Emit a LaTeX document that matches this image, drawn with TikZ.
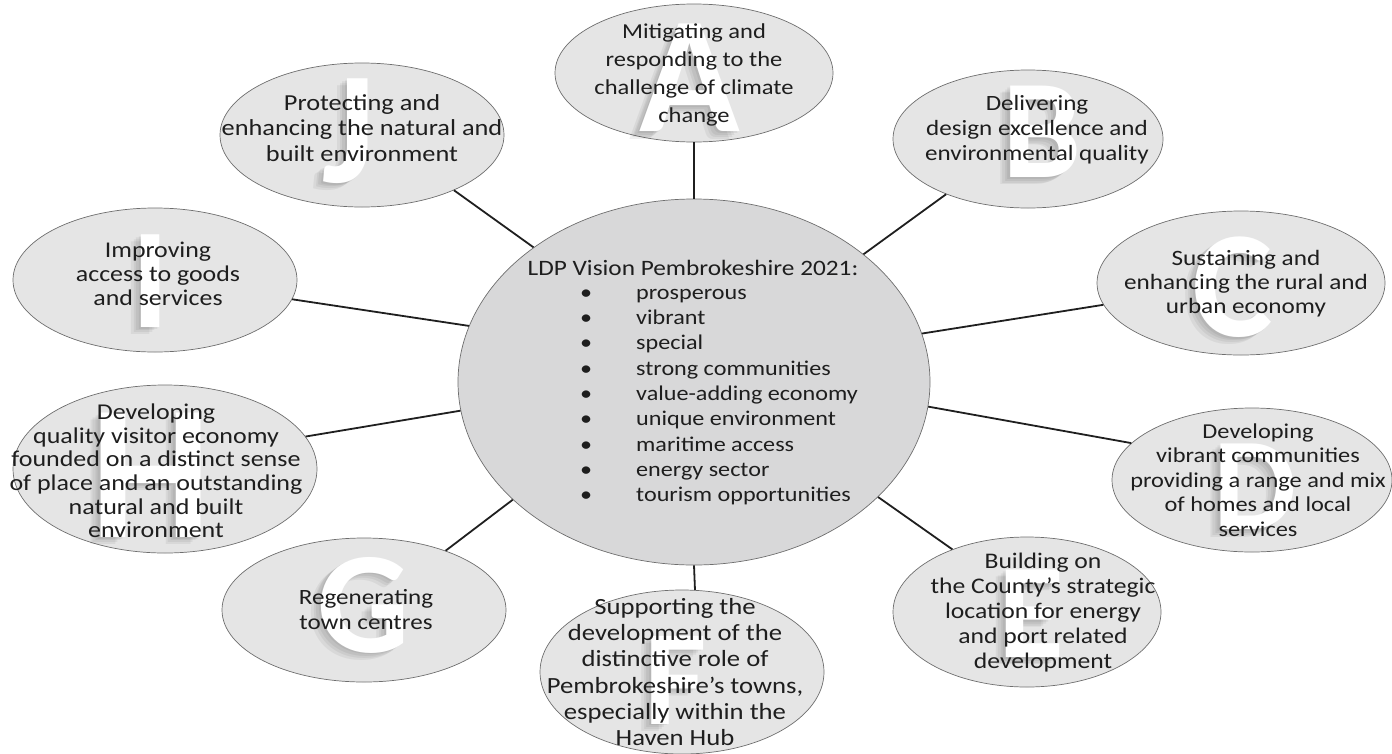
\documentclass[tikz,border=0pt]{standalone}
\usepackage{fontspec}
\setmainfont{Carlito}[FakeStretch=1.15]
\newfontfamily\letfont{Carlito}
\usetikzlibrary{shapes.geometric,calc}
\definecolor{bubfill}{HTML}{E5E5E5}
\definecolor{hubfill}{HTML}{D8D8D9}
\definecolor{edge}{HTML}{6E6E6E}
\definecolor{ink}{HTML}{1E1E1E}
\newcommand{\BigLet}[3]{%
  \foreach \o in {1,2,3,4}{%
    \node[text=black, opacity=0.055, font=\letfont\fontsize{#2}{#2}\bfseries\selectfont, inner sep=0pt] (sh#3\o) at ($(#1)+(-2.5*\o,1.8*\o)$) {#3};}%
  \node[text=white, font=\letfont\fontsize{#2}{#2}\bfseries\selectfont, inner sep=0pt] (let#3) at (#1) {#3};}
\begin{document}
\begin{tikzpicture}[x=1pt,y=-1pt,
  bub/.style={ellipse, draw=edge, line width=0.7pt, fill=bubfill, inner sep=0pt},
  hub/.style={ellipse, draw=edge, line width=0.7pt, fill=hubfill, inner sep=0pt},
  conn/.style={line width=1.8pt, draw=black!88},
  txt/.style args={#1/#2}{align=center, text=ink, font=\fontsize{#1}{#2}\selectfont, inner sep=0pt},
  hubtxt/.style={text=ink, font=\fontsize{21}{25.3}\selectfont, inner sep=0pt}
]
\useasboundingbox (0,0) rectangle (1392,753);

% ellipses
\node[hub, minimum width=472pt, minimum height=366pt] (hub) at (694,382) {};
\node[bub, minimum width=278pt, minimum height=138pt] (A) at (694,73) {};
\node[bub, minimum width=270pt, minimum height=138pt] (B) at (1028,139) {};
\node[bub, minimum width=288pt, minimum height=144pt] (C) at (1241,283) {};
\node[bub, minimum width=280pt, minimum height=144pt] (D) at (1252,480) {};
\node[bub, minimum width=268pt, minimum height=150pt] (E) at (1027,612) {};
\node[bub, minimum width=284pt, minimum height=164pt] (F) at (682,672) {};
\node[bub, minimum width=284pt, minimum height=144pt] (G) at (364,610) {};
\node[bub, minimum width=304pt, minimum height=168pt] (H) at (165,469) {};
\node[bub, minimum width=284pt, minimum height=144pt] (I) at (155,280) {};
\node[bub, minimum width=284pt, minimum height=144pt] (J) at (362,135) {};

% connectors
\draw[conn] (hub.90) -- (A.-90);
\draw[conn] (hub.37.6) -- (B.214);
\draw[conn] (hub.12.1) -- (C.189);
\draw[conn] (hub.-6.1) -- (D.163);
\draw[conn] (hub.-32.3) -- (E.140);
\draw[conn] (hub.-90) -- (F.81);
\draw[conn] (hub.213.7) -- (G.36);
\draw[conn] (hub.187.3) -- (H.13);
\draw[conn] (hub.166.7) -- (I.-8);
\draw[conn] (hub.140.5) -- (J.-31.4);

% big letters
\BigLet{690,78}{166}{A}
\BigLet{1042,132}{141}{B}
\BigLet{1233,287}{152}{C}
\BigLet{1255,487}{132}{D}
\BigLet{1031,614}{135}{E}
\BigLet{676,680}{136}{F}
\BigLet{364,605}{145}{G}
\BigLet{151,475}{192}{H}
\BigLet{151,281}{143}{I}
\BigLet{349,131}{160}{J}

% texts
\node[txt=21.3/28] (tA) at (694,75) {Mitigating and\\responding to the\\challenge of climate\\change};
\node[txt=21.8/25] (tB) at (1037,130) {Delivering\\design excellence and\\environmental quality};
\node[txt=21.9/24] (tC) at (1246,284) {Sustaining and\\enhancing the rural and\\urban economy};
\node[txt=21.2/24.5] (tD) at (1258,480) {Developing\\vibrant communities\\providing a range and mix\\of homes and local\\services};
\node[txt=22.3/25] (tE) at (1043,613) {Building on\\the County’s strategic\\location for energy\\and port related\\development};
\node[txt=23.2/26.2] (tF) at (675,672) {Supporting the\\development of the\\distinctive role of\\Pembrokeshire’s towns,\\especially within the\\Haven Hub};
\node[txt=21.8/25] (tG) at (366,610) {Regenerating\\town centres};
\node[txt=22.6/23.6] (tH) at (156,471) {Developing\\quality visitor economy\\founded on a distinct sense\\of place and an outstanding\\natural and built\\environment};
\node[txt=22.5/24] (tI) at (158,274) {Improving\\access to goods\\and services};
\node[txt=22.9/25.5] (tJ) at (362,128) {Protecting and\\enhancing the natural and\\built environment};

\node[hubtxt, font=\fontsize{22}{25.3}\selectfont, anchor=center] (title) at (693,268) {LDP Vision Pembrokeshire 2021:};
\node[hubtxt, align=left, anchor=west] (list) at (580,397) {%
\makebox[56pt][l]{•}prosperous\\
\makebox[56pt][l]{•}vibrant\\
\makebox[56pt][l]{•}special\\
\makebox[56pt][l]{•}strong communities\\
\makebox[56pt][l]{•}value-adding economy\\
\makebox[56pt][l]{•}unique environment\\
\makebox[56pt][l]{•}maritime access\\
\makebox[56pt][l]{•}energy sector\\
\makebox[56pt][l]{•}tourism opportunities};
\end{tikzpicture}
\end{document}
